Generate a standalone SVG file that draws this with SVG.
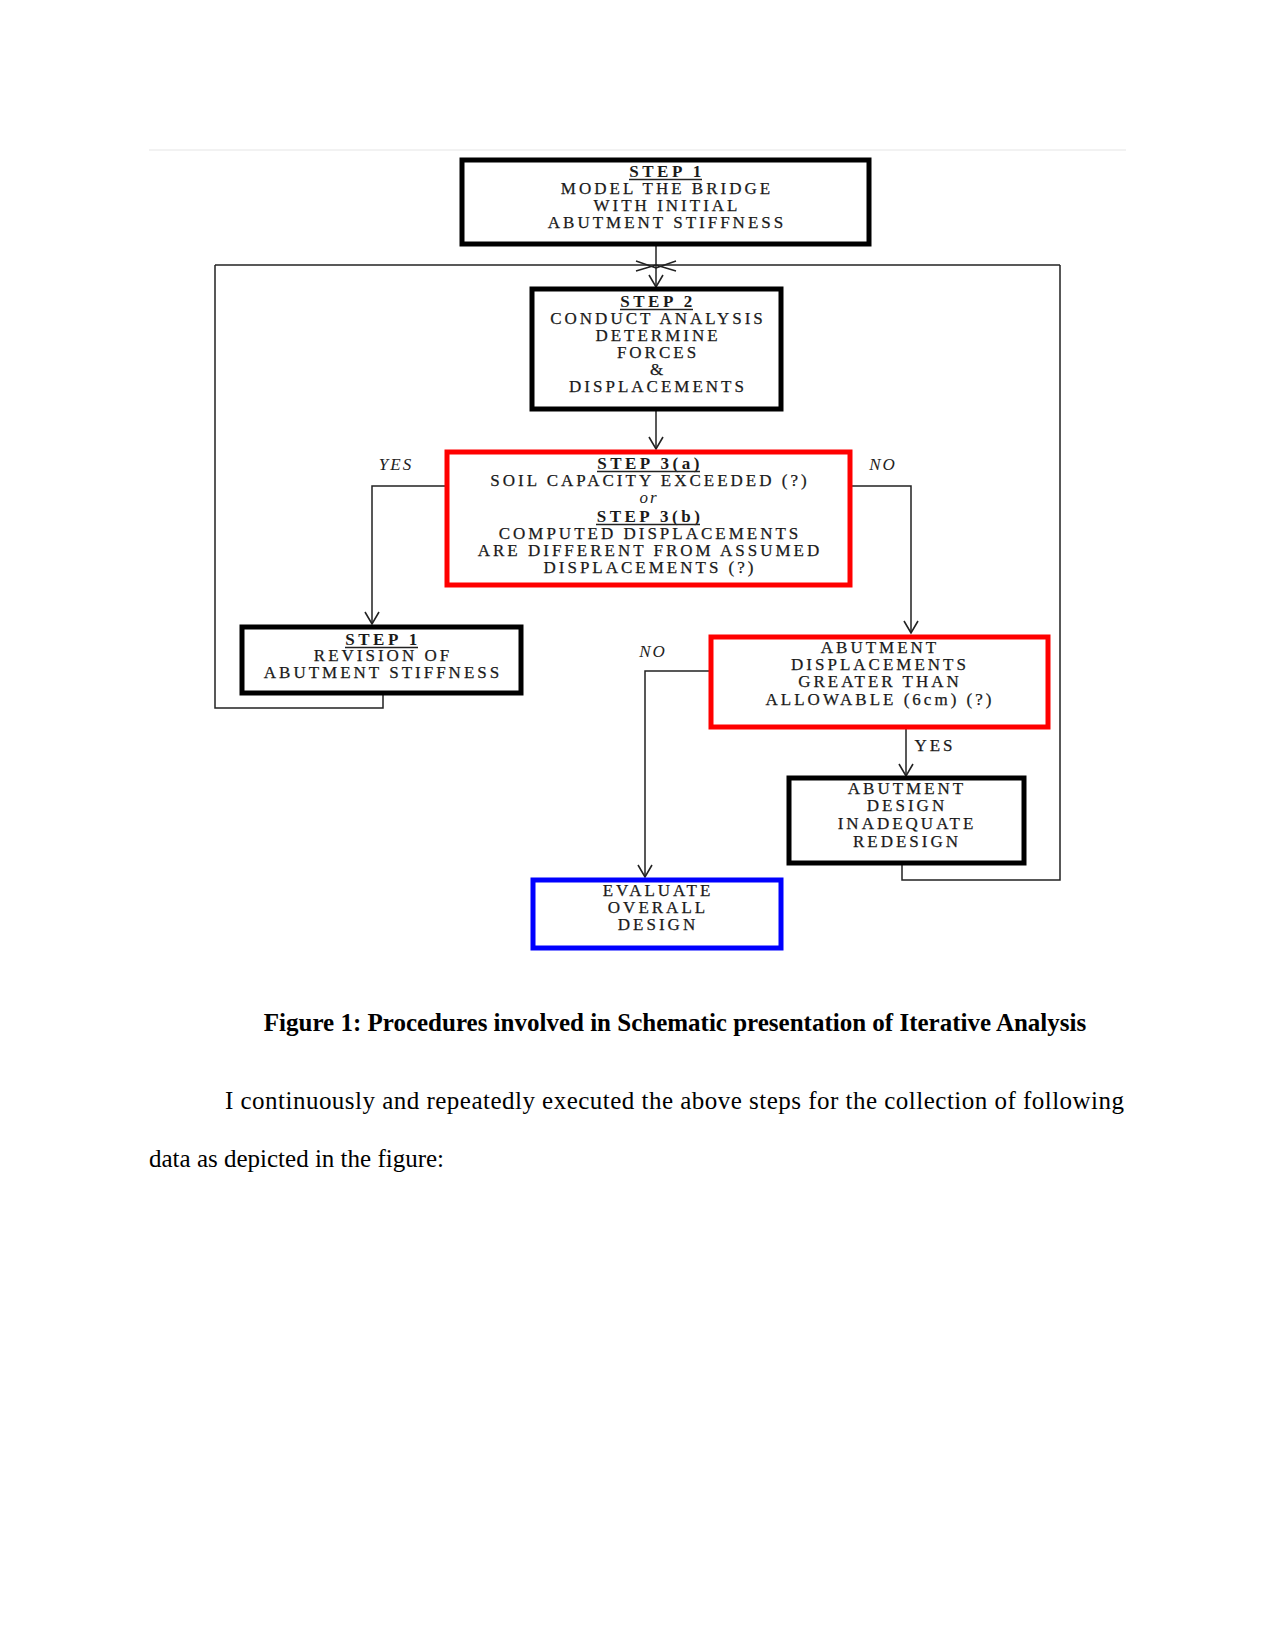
<svg xmlns="http://www.w3.org/2000/svg" width="1275" height="1650" viewBox="0 0 1275 1650">
<defs>
<marker id="arr" markerUnits="userSpaceOnUse" markerWidth="24" markerHeight="24" refX="14" refY="12" orient="auto" viewBox="0 0 24 24">
<path d="M2,5 L14,12 L2,19" fill="none" stroke="#222" stroke-width="1.6"/>
</marker>
<style>
.bk{fill:#fff;stroke:#000;stroke-width:5}
.rd{fill:#fff;stroke:#f00;stroke-width:5}
.bl{fill:#fff;stroke:#00f;stroke-width:5}
.t{font-family:"Liberation Serif",serif;font-size:17px;letter-spacing:3px;fill:#1a1a1a;text-anchor:middle;stroke:#1a1a1a;stroke-width:0.25}
.h{font-family:"Liberation Serif",serif;font-size:17px;letter-spacing:3.5px;font-weight:bold;fill:#1a1a1a;text-anchor:middle}
.i{font-family:"Liberation Serif",serif;font-size:17px;letter-spacing:2px;font-style:italic;fill:#222;text-anchor:middle}
.u{stroke:#222;stroke-width:1.3}
.c{fill:none;stroke:#222;stroke-width:1.5}
.cap{font-family:"Liberation Serif",serif;font-size:25px;font-weight:bold;fill:#000}
.body{font-family:"Liberation Serif",serif;font-size:25px;fill:#000}
</style>
</defs>
<rect width="1275" height="1650" fill="#fff"/>
<line x1="149" y1="150" x2="1126" y2="150" stroke="#eee" stroke-width="1.5"/>

<g id="connectors">
<path class="c" d="M656,244 V287" marker-end="url(#arr)"/>
<path class="c" d="M636,261 L656,268 L676,261 M636,271 L656,265 L676,271"/>
<path class="c" d="M215,265 H1060"/>
<path class="c" d="M383,693 V708 H215 V265"/>
<path class="c" d="M902,863 V880 H1060 V265"/>
<path class="c" d="M656,409 V449" marker-end="url(#arr)"/>
<path class="c" d="M447,486 H372 V624" marker-end="url(#arr)"/>
<path class="c" d="M850,486 H911 V633" marker-end="url(#arr)"/>
<path class="c" d="M711,671 H645 V877" marker-end="url(#arr)"/>
<path class="c" d="M906,727 V776" marker-end="url(#arr)"/>
<text class="i" x="396" y="470">YES</text>
<text class="i" x="883" y="470">NO</text>
<text class="i" x="653" y="657">NO</text>
<text class="t" x="935" y="751">YES</text>
</g>

<g id="step1">
<rect class="bk" x="462" y="160" width="407" height="84"/>
<text class="h" x="667" y="177">STEP 1</text>
<line class="u" x1="629" y1="179.5" x2="702" y2="179.5"/>
<text class="t" x="667" y="194">MODEL THE BRIDGE</text>
<text class="t" x="667" y="211">WITH INITIAL</text>
<text class="t" x="667" y="228">ABUTMENT STIFFNESS</text>
</g>

<g id="step2">
<rect class="bk" x="532" y="289" width="249" height="120"/>
<text class="h" x="658" y="307">STEP 2</text>
<line class="u" x1="620" y1="309.5" x2="693" y2="309.5"/>
<text class="t" x="658" y="324">CONDUCT ANALYSIS</text>
<text class="t" x="658" y="341">DETERMINE</text>
<text class="t" x="658" y="358">FORCES</text>
<text class="t" x="658" y="375">&amp;</text>
<text class="t" x="658" y="392">DISPLACEMENTS</text>
</g>

<g id="step3">
<rect class="rd" x="447" y="452" width="403" height="133"/>
<text class="h" x="650" y="469">STEP 3(a)</text>
<line class="u" x1="597" y1="471.5" x2="700" y2="471.5"/>
<text class="t" x="650" y="486">SOIL CAPACITY EXCEEDED  (?)</text>
<text class="i" x="649" y="503">or</text>
<text class="h" x="650" y="522">STEP 3(b)</text>
<line class="u" x1="596" y1="524.5" x2="700" y2="524.5"/>
<text class="t" x="650" y="539">COMPUTED DISPLACEMENTS</text>
<text class="t" x="650" y="556">ARE DIFFERENT FROM ASSUMED</text>
<text class="t" x="650" y="573">DISPLACEMENTS (?)</text>
</g>

<g id="revision">
<rect class="bk" x="242" y="627" width="279" height="66"/>
<text class="h" x="383" y="645">STEP 1</text>
<line class="u" x1="345" y1="647.5" x2="418" y2="647.5"/>
<text class="t" x="383" y="661">REVISION OF</text>
<text class="t" x="383" y="678">ABUTMENT STIFFNESS</text>
</g>

<g id="abutment-check">
<rect class="rd" x="711" y="637" width="337" height="90"/>
<text class="t" x="880" y="653">ABUTMENT</text>
<text class="t" x="880" y="670">DISPLACEMENTS</text>
<text class="t" x="880" y="687">GREATER THAN</text>
<text class="t" x="880" y="705">ALLOWABLE (6cm) (?)</text>
</g>

<g id="redesign">
<rect class="bk" x="789" y="778" width="235" height="85"/>
<text class="t" x="907" y="794">ABUTMENT</text>
<text class="t" x="907" y="811">DESIGN</text>
<text class="t" x="907" y="829">INADEQUATE</text>
<text class="t" x="907" y="847">REDESIGN</text>
</g>

<g id="evaluate">
<rect class="bl" x="533" y="880" width="248" height="68"/>
<text class="t" x="658" y="896">EVALUATE</text>
<text class="t" x="658" y="913">OVERALL</text>
<text class="t" x="658" y="930">DESIGN</text>
</g>

<text class="cap" x="675" y="1031" text-anchor="middle">Figure 1: Procedures involved in Schematic presentation of Iterative Analysis</text>
<text class="body" x="225" y="1109" textLength="899" lengthAdjust="spacing">I continuously and repeatedly executed the above steps for the collection of following</text>
<text class="body" x="149" y="1167">data as depicted in the figure:</text>
</svg>
